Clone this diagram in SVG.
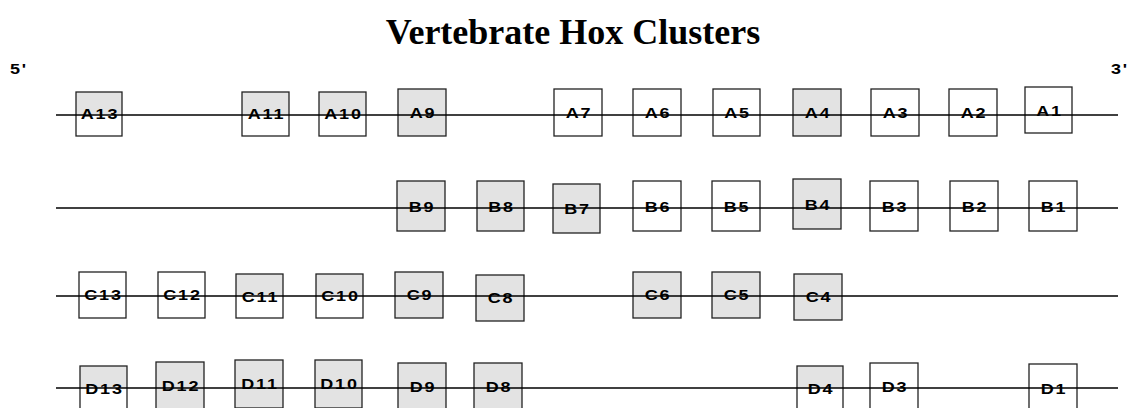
<svg xmlns="http://www.w3.org/2000/svg" width="1128" height="408" viewBox="0 0 1128 408">
<style>
.w{fill:#ffffff;stroke:#222;stroke-width:1.3}
.g{fill:#e3e3e3;stroke:#222;stroke-width:1.3}
.o{fill:none;stroke:#222;stroke-width:1.3}
text.l{font-family:"Liberation Sans",Arial,sans-serif;font-weight:bold;font-size:15px;letter-spacing:1.5px;fill:#000;text-anchor:middle}
.chr{stroke:#000;stroke-width:1.3}
.title{font-family:"Liberation Serif","Times New Roman",serif;font-weight:bold;font-size:36px;fill:#000;text-anchor:middle}
</style>
<defs>
<linearGradient id="half" x1="0" y1="0" x2="0" y2="1">
<stop offset="0" stop-color="#e3e3e3"/><stop offset="0.5" stop-color="#e3e3e3"/><stop offset="0.5" stop-color="#ffffff"/><stop offset="1" stop-color="#ffffff"/>
</linearGradient>
</defs>
<rect width="1128" height="408" fill="#fff"/>
<text class="title" x="573" y="44">Vertebrate Hox Clusters</text>
<text class="l" transform="translate(19,74) scale(1.2,1)">5'</text>
<text class="l" style="text-anchor:start" transform="translate(1111,74) scale(1.2,1)">3'</text>

<!-- Row A -->
<g id="A13"><rect x="76" y="92" width="46" height="44" fill="url(#half)" stroke="#222" stroke-width="1.3"/><text class="l" transform="translate(100,119) scale(1.2,1)">A13</text></g>
<g id="A11"><rect x="242" y="92" width="47" height="44" fill="url(#half)" stroke="#222" stroke-width="1.3"/><text class="l" transform="translate(266.5,119) scale(1.2,1)">A11</text></g>
<g id="A10"><rect x="319" y="92" width="47" height="44" fill="url(#half)" stroke="#222" stroke-width="1.3"/><text class="l" transform="translate(343.5,119) scale(1.2,1)">A10</text></g>
<g id="A9"><rect class="g" x="398" y="89" width="48" height="47"/><text class="l" transform="translate(423,118) scale(1.2,1)">A9</text></g>
<g id="A7"><rect class="w" x="554" y="89" width="48" height="47"/><text class="l" transform="translate(579,118) scale(1.2,1)">A7</text></g>
<g id="A6"><rect class="w" x="633" y="89" width="48" height="47"/><text class="l" transform="translate(658,118) scale(1.2,1)">A6</text></g>
<g id="A5"><rect class="w" x="713" y="89" width="47" height="47"/><text class="l" transform="translate(737.5,118) scale(1.2,1)">A5</text></g>
<g id="A4"><rect class="g" x="793" y="89" width="48" height="47"/><text class="l" transform="translate(818,118) scale(1.2,1)">A4</text></g>
<g id="A3"><rect class="w" x="871" y="89" width="48" height="47"/><text class="l" transform="translate(896,118) scale(1.2,1)">A3</text></g>
<g id="A2"><rect class="w" x="949" y="89" width="48" height="47"/><text class="l" transform="translate(974,118) scale(1.2,1)">A2</text></g>
<g id="A1"><rect class="w" x="1025" y="87" width="47" height="46"/><text class="l" transform="translate(1049.5,116) scale(1.2,1)">A1</text></g>

<!-- Row B -->
<g id="B9"><rect class="g" x="397" y="181" width="48" height="50"/><text class="l" transform="translate(422,212) scale(1.2,1)">B9</text></g>
<g id="B8"><rect class="g" x="477" y="181" width="47" height="50"/><text class="l" transform="translate(501.5,212) scale(1.2,1)">B8</text></g>
<g id="B7"><rect class="g" x="553" y="184" width="47" height="49"/><text class="l" transform="translate(577.5,214) scale(1.2,1)">B7</text></g>
<g id="B6"><rect class="w" x="633" y="181" width="48" height="50"/><text class="l" transform="translate(658,212) scale(1.2,1)">B6</text></g>
<g id="B5"><rect class="w" x="712" y="181" width="48" height="50"/><text class="l" transform="translate(737,212) scale(1.2,1)">B5</text></g>
<g id="B4"><rect class="g" x="793" y="179" width="48" height="50"/><text class="l" transform="translate(818,210) scale(1.2,1)">B4</text></g>
<g id="B3"><rect class="w" x="870" y="181" width="48" height="50"/><text class="l" transform="translate(895,212) scale(1.2,1)">B3</text></g>
<g id="B2"><rect class="w" x="950" y="181" width="48" height="50"/><text class="l" transform="translate(975,212) scale(1.2,1)">B2</text></g>
<g id="B1"><rect class="w" x="1029" y="181" width="48" height="50"/><text class="l" transform="translate(1054,212) scale(1.2,1)">B1</text></g>

<!-- Row C -->
<g id="C13"><rect class="w" x="79" y="272" width="47" height="46"/><text class="l" transform="translate(103.5,300) scale(1.2,1)">C13</text></g>
<g id="C12"><rect class="w" x="158" y="272" width="47" height="46"/><text class="l" transform="translate(182.5,300) scale(1.2,1)">C12</text></g>
<g id="C11"><rect x="236" y="274" width="47" height="44" fill="url(#half)" stroke="#222" stroke-width="1.3"/><text class="l" transform="translate(260.5,302) scale(1.2,1)">C11</text></g>
<g id="C10"><rect x="316" y="274" width="47" height="44" fill="url(#half)" stroke="#222" stroke-width="1.3"/><text class="l" transform="translate(340.5,301) scale(1.2,1)">C10</text></g>
<g id="C9"><rect class="g" x="395" y="272" width="48" height="46"/><text class="l" transform="translate(420,300) scale(1.2,1)">C9</text></g>
<g id="C8"><rect class="g" x="476" y="275" width="48" height="46"/><text class="l" transform="translate(501,303) scale(1.2,1)">C8</text></g>
<g id="C6"><rect class="g" x="633" y="272" width="48" height="46"/><text class="l" transform="translate(658,300) scale(1.2,1)">C6</text></g>
<g id="C5"><rect class="g" x="712" y="272" width="48" height="46"/><text class="l" transform="translate(737,300) scale(1.2,1)">C5</text></g>
<g id="C4"><rect class="g" x="794" y="274" width="48" height="46"/><text class="l" transform="translate(819,302) scale(1.2,1)">C4</text></g>

<!-- Row D -->
<g id="D13"><rect x="80" y="366" width="47" height="44" fill="url(#half)" stroke="#222" stroke-width="1.3"/><text class="l" transform="translate(104.5,394) scale(1.2,1)">D13</text></g>
<g id="D12"><rect class="g" x="156" y="362" width="48" height="48"/><text class="l" transform="translate(181,391) scale(1.2,1)">D12</text></g>
<g id="D11"><rect class="g" x="235" y="360" width="48" height="48"/><text class="l" transform="translate(260,389) scale(1.2,1)">D11</text></g>
<g id="D10"><rect class="g" x="315" y="360" width="47" height="48"/><text class="l" transform="translate(339.5,389) scale(1.2,1)">D10</text></g>
<g id="D9"><rect class="g" x="398" y="363" width="48" height="48"/><text class="l" transform="translate(423,392) scale(1.2,1)">D9</text></g>
<g id="D8"><rect class="g" x="474" y="363" width="48" height="48"/><text class="l" transform="translate(499,392) scale(1.2,1)">D8</text></g>
<g id="D4"><rect x="797" y="366" width="46" height="44" fill="url(#half)" stroke="#222" stroke-width="1.3"/><text class="l" transform="translate(821,394) scale(1.2,1)">D4</text></g>
<g id="D3"><rect class="w" x="870" y="363" width="48" height="48"/><text class="l" transform="translate(895,392) scale(1.2,1)">D3</text></g>
<g id="D1"><rect class="w" x="1029" y="364" width="48" height="48"/><text class="l" transform="translate(1054,394) scale(1.2,1)">D1</text></g>

<!-- Chromosome lines -->
<g id="connectors">
<line class="chr" x1="56" y1="115" x2="1118" y2="115"/>
<line class="chr" x1="56" y1="208" x2="1118" y2="208"/>
<line class="chr" x1="56" y1="296" x2="1118" y2="296"/>
<line class="chr" x1="56" y1="388" x2="1118" y2="388"/>
</g>
</svg>
